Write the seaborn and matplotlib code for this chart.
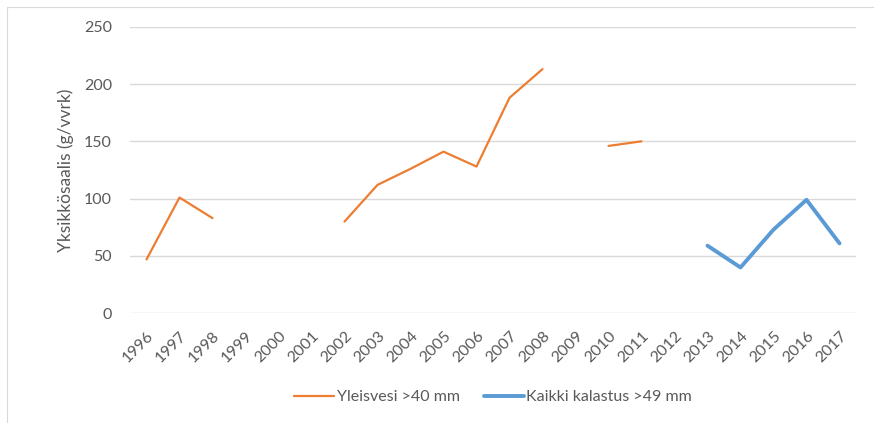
import matplotlib
matplotlib.use("Agg")
import matplotlib.pyplot as plt
from matplotlib.lines import Line2D
from matplotlib.patches import Rectangle
import seaborn as sns
import numpy as np
import pandas as pd

years = [str(y) for y in range(1996, 2018)]
yleisvesi = [47, 101, 83, np.nan, np.nan, np.nan, 80, 112, 126, 141, 128, 188, 213,
             np.nan, 146, 150, np.nan, np.nan, np.nan, np.nan, np.nan, np.nan]
kaikki = [np.nan] * 17 + [59, 40, 73, 99, 61]

series_names = ["Yleisvesi >40 mm", "Kaikki kalastus >49 mm"]
colors = ["#ED7D31", "#5B9BD5"]
widths = [1.6, 2.8]

sns.set_theme(style="white")
plt.rcParams['font.family'] = ['Lato', 'DejaVu Sans']

fig = plt.figure(figsize=(8.74, 4.23), dpi=100)
ax = fig.add_axes([130 / 874, 1 - 313.3 / 423, (856 - 130) / 874, (313.3 - 26.7) / 423])

# chart border (only top and left edges are visible in the crop)
fig.patches.append(Rectangle((7 / 874, -0.1), 1.2, 1 - 7 / 423 + 0.1, transform=fig.transFigure,
                             fill=False, edgecolor="#D9D9D9", linewidth=0.8))


def segments(vals):
    # split series into contiguous runs so gaps stay empty
    rows, seg = [], 0
    prev = False
    for i, v in enumerate(vals):
        if np.isnan(v):
            if prev:
                seg += 1
            prev = False
            continue
        rows.append({"pos": i, "val": v, "seg": seg})
        prev = True
    return pd.DataFrame(rows)


for vals, name, c, lw in zip([yleisvesi, kaikki], series_names, colors, widths):
    df = segments(vals)
    sns.lineplot(data=df, x="pos", y="val", units="seg", estimator=None,
                 color=c, linewidth=lw, ax=ax, legend=False)

ax.set_xlim(-0.5, len(years) - 0.5)
ax.set_ylim(0, 250)
ax.set_yticks(range(0, 251, 50))
ax.set_xticks(range(len(years)))
ax.set_xticklabels(years, rotation=45, ha="right", rotation_mode="anchor")
ax.tick_params(axis="both", length=0, labelsize=11.5, colors="#595959")
ax.tick_params(axis="x", pad=11)
ax.tick_params(axis="y", pad=13)
ax.yaxis.grid(True, color="#D9D9D9", linewidth=1)
ax.set_axisbelow(True)
for s in ax.spines.values():
    s.set_visible(False)
ax.set_xlabel("")
ax.set_ylabel("Yksikkösaalis (g/vvrk)", fontsize=12.5, color="#595959", labelpad=7)

handles = [Line2D([], [], color=c, linewidth=lw) for c, lw in zip(colors, widths)]
fig.legend(handles, series_names, loc="center", bbox_to_anchor=(493 / 874, 1 - 397 / 423),
           ncol=2, frameon=False, fontsize=11.5, handlelength=2.5, handletextpad=0.15,
           columnspacing=1.5, labelcolor="#595959")

fig.savefig("out.png", dpi=100)
